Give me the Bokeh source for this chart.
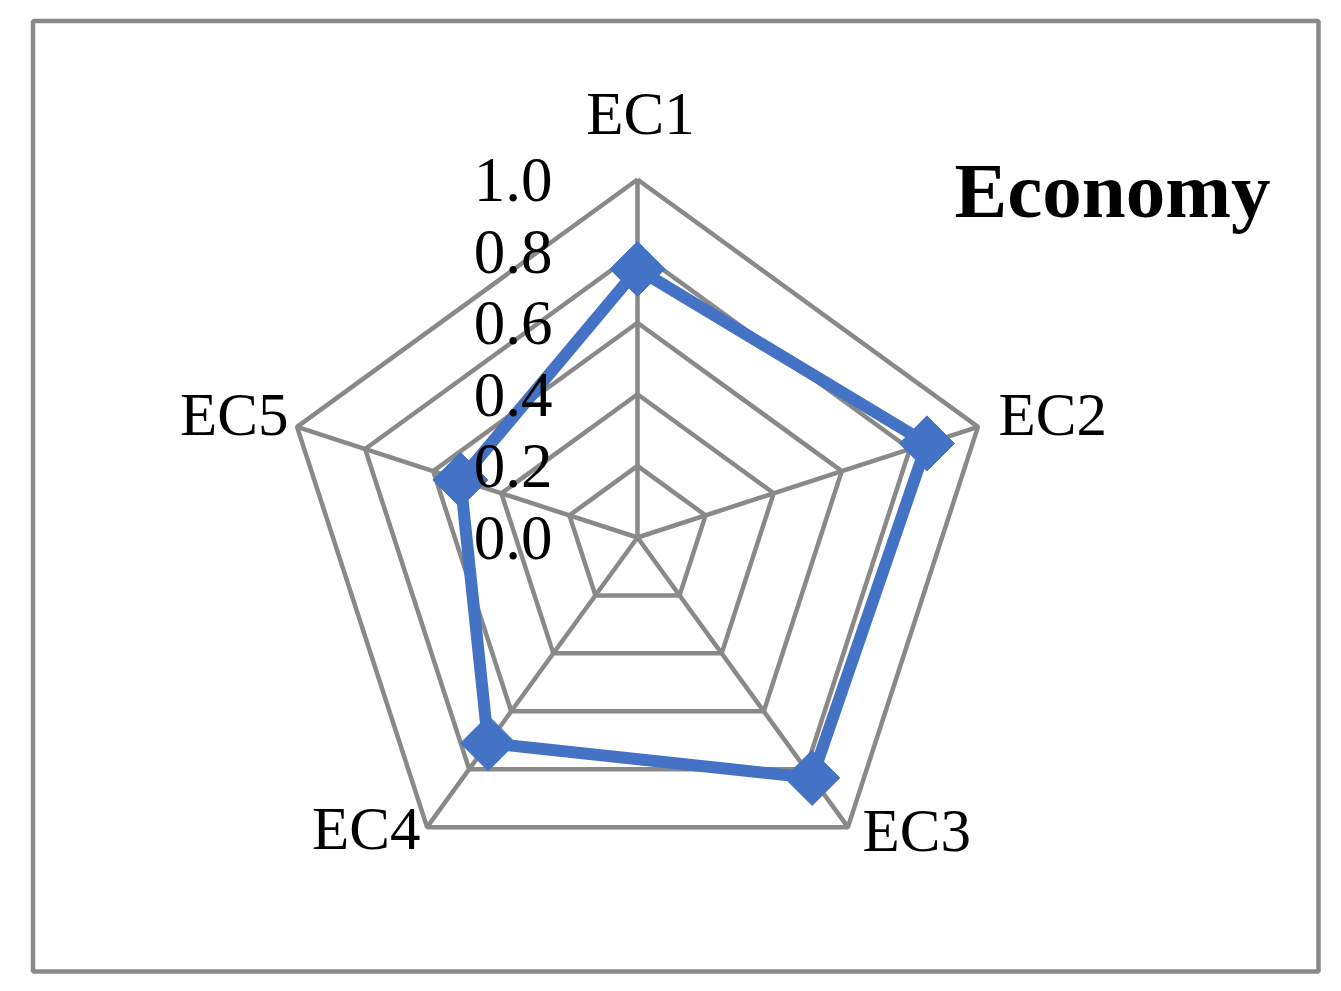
import numpy as np
from bokeh.plotting import figure
from bokeh.models import Range1d
from bokeh.core.properties import value
from bokeh.embed import file_html
from bokeh.resources import INLINE

# ---- data ----
categories = ["EC1", "EC2", "EC3", "EC4", "EC5"]
scores = [0.75, 0.85, 0.83, 0.71, 0.52]
tick_values = [0.0, 0.2, 0.4, 0.6, 0.8, 1.0]
tick_labels = ["0.0", "0.2", "0.4", "0.6", "0.8", "1.0"]
title_text = "Economy"

# ---- layout ----
W, H = 1325, 975
R = 358.0           # pixel radius of value 1.0
CX, CY = 637, 537   # center in canvas pixels (from top-left)

GRID = "#898989"
BLUE = "#4472C4"
FONT = "Liberation Serif"

p = figure(width=W, height=H, output_backend="svg", toolbar_location=None,
           x_range=Range1d(-CX, W - CX), y_range=Range1d(-(H - CY), CY),
           min_border=0, outline_line_color=None)
p.axis.visible = False
p.grid.visible = False
p.background_fill_color = "white"
p.border_fill_color = "white"

n = len(categories)
angles = np.pi / 2 - 2 * np.pi * np.arange(n) / n
ux, uy = np.cos(angles), np.sin(angles)

# outer frame
p.quad(left=[-604.5], right=[681], top=[516.5], bottom=[-434],
       fill_color=None, line_color=GRID, line_width=4.5)

# grid pentagons
for v in tick_values[1:]:
    xs = list(R * v * ux) + [R * v * ux[0]]
    ys = list(R * v * uy) + [R * v * uy[0]]
    p.line(xs, ys, line_color=GRID, line_width=4.5)
# spokes
p.multi_line([[0, R * ux[i]] for i in range(n)], [[0, R * uy[i]] for i in range(n)],
             line_color=GRID, line_width=4.5)

# data series
sx = [R * s * ux[i] for i, s in enumerate(scores)]
sy = [R * s * uy[i] for i, s in enumerate(scores)]
p.line(sx + [sx[0]], sy + [sy[0]], line_color=BLUE, line_width=12, line_join="round")
p.scatter(sx, sy, marker="square", size=39, angle=np.pi / 4,
          fill_color=BLUE, line_color=BLUE)

# tick labels
p.text(x=[-85] * len(tick_values), y=[R * v - 0.5 for v in tick_values], text=tick_labels,
       text_font=value(FONT), text_font_size="63px", text_align="right",
       text_baseline="alphabetic", text_color="black")

# category labels
lab_x = [3, 361, 225, -217, -349]
lab_y = [424, 123, -293, -291, 123]
aligns = ["center", "left", "left", "right", "right"]
for i in range(n):
    p.text(x=[lab_x[i]], y=[lab_y[i]], text=[categories[i]],
           text_font=value(FONT), text_font_size="61px", text_align=aligns[i],
           text_baseline="alphabetic", text_color="black")

# title
p.text(x=[475], y=[347], text=[title_text], text_font=value(FONT),
       text_font_size="79px", text_font_style="bold", text_align="center",
       text_baseline="alphabetic", text_color="black")

open("out.html", "w").write(file_html(p, INLINE))
